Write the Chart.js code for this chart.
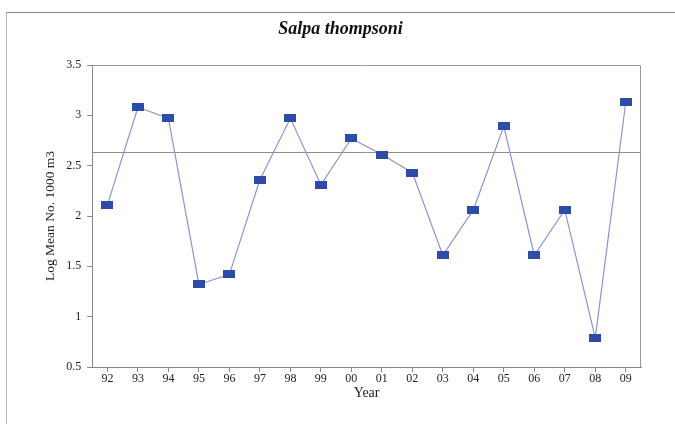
<!DOCTYPE html>
<html>
<head>
<meta charset="utf-8">
<script src="https://cdn.jsdelivr.net/npm/chart.js@4"></script>
<style>
  html, body { margin: 0; padding: 0; background: #fff; }
  #wrap { position: relative; width: 675px; height: 424px; }
  #frame { position: absolute; left: 6px; top: 12px; right: 0; bottom: 0;
           border-top: 1px solid #8a8a8a; border-left: 1px solid #b5b5b5; }
  canvas { position: absolute; left: 0; top: 0; }
</style>
</head>
<body>
<div id="wrap">
  <div id="frame"></div>
  <canvas id="chart" width="675" height="424"></canvas>
</div>
<script>
// Year labels and log mean abundance
const years = ['92', '93', '94', '95', '96', '97', '98', '99', '00', '01', '02', '03', '04', '05', '06', '07', '08', '09'];
const logMean = [2.11, 3.08, 2.97, 1.32, 1.42, 2.36, 2.97, 2.31, 2.77, 2.61, 2.43, 1.61, 2.06, 2.89, 1.61, 2.06, 0.79, 3.13];
const overallMean = 2.64;
const yTicks = [0.5, 1, 1.5, 2, 2.5, 3, 3.5];

// small flat rectangle marker
const marker = document.createElement('canvas');
marker.width = 12;
marker.height = 8;
const mctx = marker.getContext('2d');
mctx.fillStyle = '#2f4ba8';
mctx.fillRect(0, 0, 12, 8);

// plot box + mean line
const boxAndMean = {
    id: 'boxAndMean',
    beforeDatasetsDraw(chart) {
        const { ctx, chartArea: a, scales: { y } } = chart;
        ctx.save();
        ctx.strokeStyle = '#9a9a9a';
        ctx.lineWidth = 1;
        ctx.beginPath();
        ctx.moveTo(a.left, a.top + 0.5);
        ctx.lineTo(a.right - 0.5, a.top + 0.5);
        ctx.lineTo(a.right - 0.5, a.bottom);
        ctx.stroke();
        const ym = Math.round(y.getPixelForValue(overallMean)) + 0.5;
        ctx.strokeStyle = '#8f8f8f';
        ctx.beginPath();
        ctx.moveTo(a.left, ym);
        ctx.lineTo(a.right, ym);
        ctx.stroke();
        ctx.restore();
    }
};

new Chart(document.getElementById('chart'), {
    type: 'line',
    data: {
        labels: years,
        datasets: [{
            data: logMean,
            borderColor: '#8e91da',
            borderWidth: 1.2,
            pointStyle: marker,
            pointRadius: 6,
            pointHoverRadius: 6,
            tension: 0
        }]
    },
    options: {
        responsive: false,
        animation: false,
        layout: { padding: { left: 40, right: 34, top: 4, bottom: 24 } },
        plugins: {
            legend: { display: false },
            tooltip: { enabled: false },
            title: {
                display: true,
                text: 'Salpa thompsoni',
                color: '#111',
                font: { family: 'Liberation Serif', size: 18, style: 'italic', weight: 'bold', lineHeight: 1 },
                padding: { top: 16, bottom: 27 }
            }
        },
        scales: {
            x: {
                offset: true,
                grid: { display: true, drawOnChartArea: false, offset: false, tickLength: 5, color: '#888' },
                border: { color: '#888' },
                ticks: { color: '#222', padding: 1, font: { family: 'Liberation Serif', size: 12, lineHeight: 1 } },
                title: { display: true, text: 'Year', color: '#222', padding: 0,
                         font: { family: 'Liberation Serif', size: 14, lineHeight: 1 } }
            },
            y: {
                min: 0.5,
                max: 3.5,
                afterBuildTicks(axis) { axis.ticks = yTicks.map(v => ({ value: v })); },
                grid: { display: true, drawOnChartArea: false, tickLength: 5, color: '#888' },
                border: { color: '#888' },
                ticks: { color: '#222', padding: 6, callback: v => String(v),
                         font: { family: 'Liberation Serif', size: 12 } },
                title: { display: true, text: 'Log Mean No. 1000 m3', color: '#222', padding: 2,
                         font: { family: 'Liberation Serif', size: 13.5 } }
            }
        }
    },
    plugins: [boxAndMean]
});
</script>
</body>
</html>
